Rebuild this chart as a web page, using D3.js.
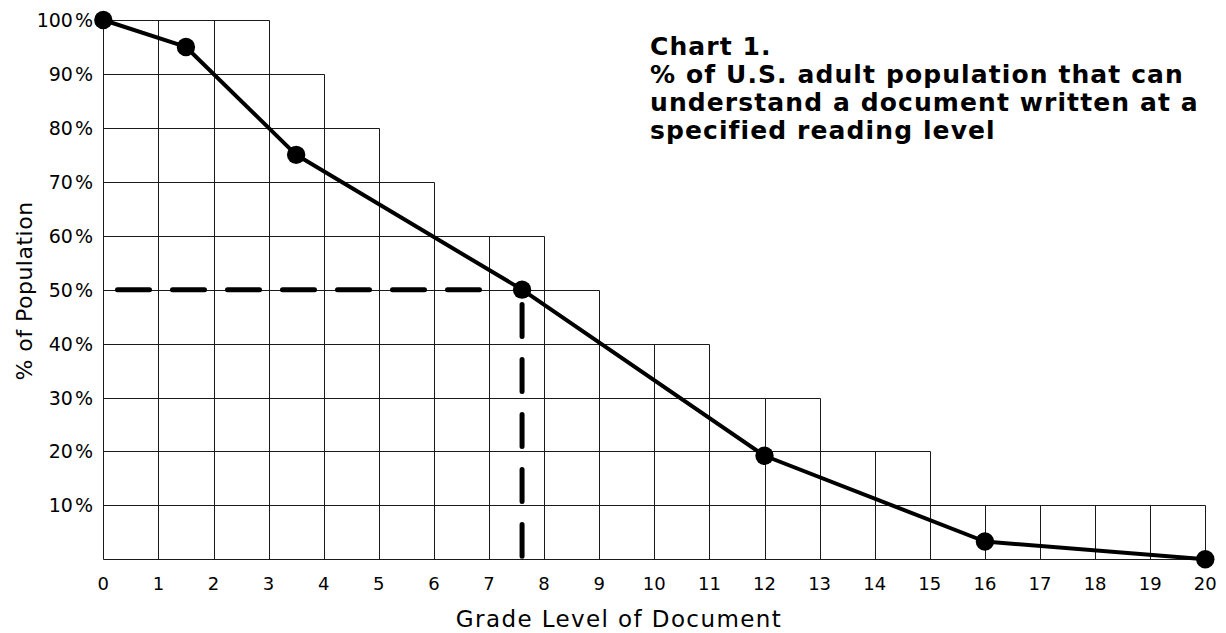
<!DOCTYPE html>
<html lang="en">
<head>
    <meta charset="UTF-8">
    <title>Reading level chart</title>
    <style>
        body { margin: 0; background: #fff; }
        text { font-family: "DejaVu Sans", Verdana, sans-serif; fill: #000; }
    </style>
</head>
<body>
<script src="https://d3js.org/d3.v7.min.js"></script>
<script>
    // curve points: grade level vs % of population
    var grades = [0, 1.5, 3.5, 7.6, 12, 16, 20];
    var percents = [100, 95, 75, 50, 19.2, 3.3, 0];

    // top of each grid column (column i spans grade i..i+1)
    var columnTops = [100, 100, 100, 90, 80, 70, 60, 60, 50, 40, 40, 30, 30, 20, 20, 10, 10, 10, 10, 10];

    var xTicks = d3.range(0, 21);
    var yTicks = [10, 20, 30, 40, 50, 60, 70, 80, 90, 100];
    var medianGrade = 7.6;
    var medianPct = 50;

    var titleLines = ["Chart 1.", "% of U.S. adult population that can", "understand a document written at a", "specified reading level"];

    var W = 1226, H = 633;
    var x = d3.scaleLinear().domain([0, 20]).range([103.3, 1205.3]);
    var y = d3.scaleLinear().domain([0, 100]).range([559.3, 20]);
    var px = v => Math.round(v) + 0.5;

    var svg = d3.select("body").append("svg")
        .attr("width", W)
        .attr("height", H);

    var grid = svg.append("g")
        .attr("stroke", "#1a1a1a")
        .attr("stroke-width", 1);

    // vertical grid lines, each up to the taller neighbouring column
    grid.selectAll("line.v")
        .data(xTicks)
        .enter().append("line")
        .attr("class", "v")
        .attr("x1", d => px(x(d))).attr("x2", d => px(x(d)))
        .attr("y1", px(y(0)))
        .attr("y2", d => {
            var left = d > 0 ? columnTops[d - 1] : 0;
            var right = d < columnTops.length ? columnTops[d] : 0;
            return px(y(Math.max(left, right)));
        });

    // horizontal lines, out to the last column reaching that level
    grid.selectAll("line.h")
        .data([0].concat(yTicks))
        .enter().append("line")
        .attr("class", "h")
        .attr("y1", d => px(y(d))).attr("y2", d => px(y(d)))
        .attr("x1", px(x(0)))
        .attr("x2", d => {
            var last = 0;
            columnTops.forEach((t, i) => { if (t >= d) last = i + 1; });
            return px(x(last));
        });

    // tick labels
    svg.selectAll("text.xt")
        .data(xTicks)
        .enter().append("text")
        .attr("class", "xt")
        .attr("x", d => x(d))
        .attr("y", 590)
        .attr("text-anchor", "middle")
        .style("font-size", "18px")
        .text(d => d);

    var yt = svg.selectAll("text.yt")
        .data(yTicks)
        .enter().append("text")
        .attr("class", "yt")
        .attr("x", 93)
        .attr("y", d => y(d) + 7)
        .attr("text-anchor", "end")
        .style("font-size", "19px");
    yt.append("tspan").text(d => d);
    yt.append("tspan").attr("dx", 2).text("%");

    // axis titles
    svg.append("text")
        .attr("x", 619)
        .attr("y", 627)
        .attr("text-anchor", "middle")
        .style("font-size", "23px")
        .style("letter-spacing", "1.4px")
        .text("Grade Level of Document");

    svg.append("text")
        .attr("transform", "translate(32,291) rotate(-90)")
        .attr("text-anchor", "middle")
        .style("font-size", "22px")
        .style("letter-spacing", "0.5px")
        .text("% of Population");

    // dashed median guides
    var dash = svg.append("g")
        .attr("stroke", "#000")
        .attr("stroke-width", 5)
        .attr("stroke-linecap", "round")
        .attr("fill", "none");

    dash.append("line")
        .attr("x1", x(0) + 14.2).attr("x2", x(medianGrade) - 20)
        .attr("y1", y(medianPct)).attr("y2", y(medianPct))
        .attr("stroke-dasharray", "32,23");

    dash.append("line")
        .attr("x1", x(medianGrade)).attr("x2", x(medianGrade))
        .attr("y1", y(medianPct) + 14.8).attr("y2", y(0) - 3)
        .attr("stroke-dasharray", "32,23");

    // curve
    var pts = grades.map((g, i) => ({g: g, p: percents[i]}));

    svg.append("path")
        .datum(pts)
        .attr("fill", "none")
        .attr("stroke", "#000")
        .attr("stroke-width", 4)
        .attr("stroke-linejoin", "round")
        .attr("d", d3.line().x(d => x(d.g)).y(d => y(d.p)));

    svg.selectAll("circle.pt")
        .data(pts)
        .enter().append("circle")
        .attr("class", "pt")
        .attr("cx", d => x(d.g))
        .attr("cy", d => y(d.p))
        .attr("r", 9.2)
        .attr("fill", "#000");

    // title block
    svg.append("text")
        .attr("x", 650)
        .attr("y", 55)
        .style("font-size", "25px")
        .style("font-weight", "bold")
        .style("letter-spacing", "1.1px")
        .selectAll("tspan")
        .data(titleLines)
        .enter().append("tspan")
        .attr("x", 650)
        .attr("dy", (d, i) => i === 0 ? 0 : 28)
        .text(d => d);
</script>
</body>
</html>
